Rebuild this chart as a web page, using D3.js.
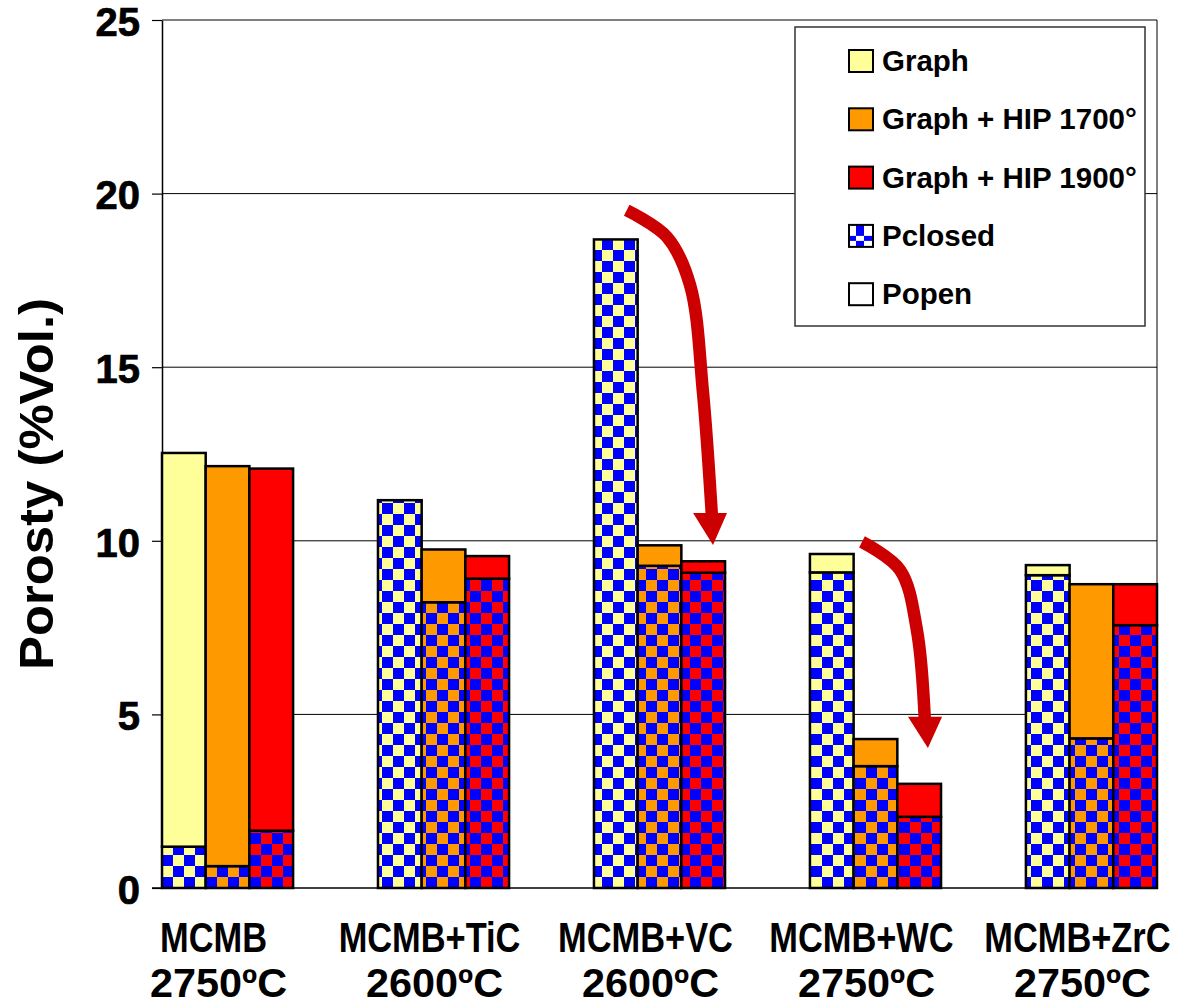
<!DOCTYPE html>
<html><head><meta charset="utf-8">
<script src="https://cdn.jsdelivr.net/npm/d3@7"></script>
<style>body{margin:0;background:#fff} svg{display:block}</style>
</head><body>
<svg id="chart" width="1183" height="1006"></svg>
<script>
// ---- data ----
const categories = ["MCMB", "MCMB+TiC", "MCMB+VC", "MCMB+WC", "MCMB+ZrC"];
const temperatures = ["2750ºC", "2600ºC", "2600ºC", "2750ºC", "2750ºC"];
const seriesNames = ["Graph", "Graph + HIP 1700°", "Graph + HIP 1900°"];
// closed porosity (checkered part)
const graphClosed   = [1.19, 11.17, 18.68, 9.09, 9.01];
const hip1700Closed = [0.63, 8.23, 9.28, 3.51, 4.31];
const hip1900Closed = [1.65, 8.91, 9.08, 2.05, 7.57];
// open porosity (solid part, stacked on top)
const graphOpen   = [11.34, 0.00, 0.00, 0.53, 0.29];
const hip1700Open = [11.52, 1.52, 0.59, 0.78, 4.44];
const hip1900Open = [10.43, 0.65, 0.33, 0.95, 1.18];
const yTicks = [0, 5, 10, 15, 20, 25];
const legendLabels = ["Graph", "Graph + HIP 1700°", "Graph + HIP 1900°", "Pclosed", "Popen"];
const seriesColors = ["#FFFF99", "#FF9900", "#FF0000"];
// annotation arrows: [fraction of category band, value]
const arrow1Shaft = [[0.25, 19.52], [0.557, 18.75], [0.733, 17.37], [0.832, 14.26], [0.90, 10.7]];
const arrow1Head  = [[0.756, 10.80], [1.015, 10.80], [0.908, 9.88]];
const arrow2Shaft = [[0.397, 9.97], [0.687, 9.16], [0.816, 7.43], [0.877, 4.8]];
const arrow2Head  = [[0.748, 4.93], [1.008, 4.93], [0.90, 4.03]];

const closedSeries = [graphClosed, hip1700Closed, hip1900Closed];
const openSeries = [graphOpen, hip1700Open, hip1900Open];

// ---- layout ----
const svg = d3.select("#chart");
const M = {left: 162, right: 1157, top: 20, bottom: 888};
const FONT = "'Liberation Sans', Arial, Helvetica, sans-serif";
const BLUE = "#0000FF";

const x = d3.scaleBand().domain(categories).range([M.left, M.right]).paddingInner(0.393).paddingOuter(0);
const xs = d3.scaleBand().domain(seriesNames).range([0, x.bandwidth()]);
const y = d3.scaleLinear().domain([0, 25]).range([M.bottom, M.top]);

// patterns
const defs = svg.append("defs");
const cell = 11;
seriesColors.forEach((c, i) => {
  const p = defs.append("pattern").attr("id", "chk" + i)
    .attr("patternUnits", "userSpaceOnUse").attr("width", cell * 2).attr("height", cell * 2)
    .attr("x", M.left).attr("y", M.bottom);
  p.append("rect").attr("width", cell * 2).attr("height", cell * 2).attr("fill", c);
  p.append("rect").attr("x", cell).attr("y", 0).attr("width", cell).attr("height", cell).attr("fill", BLUE);
  p.append("rect").attr("x", 0).attr("y", cell).attr("width", cell).attr("height", cell).attr("fill", BLUE);
});

// gridlines
svg.append("g").selectAll("line").data(yTicks.filter(t => t > 0)).join("line")
  .attr("x1", M.left).attr("x2", M.right)
  .attr("y1", d => y(d)).attr("y2", d => y(d))
  .attr("stroke", "#000").attr("stroke-width", 1);
// right frame
svg.append("line").attr("x1", M.right).attr("x2", M.right).attr("y1", M.top).attr("y2", M.bottom)
  .attr("stroke", "#000").attr("stroke-width", 1);

// y axis
const yAxis = svg.append("g").attr("transform", `translate(${M.left},0)`)
  .call(d3.axisLeft(y).tickValues(yTicks).tickSize(10).tickSizeOuter(0).tickPadding(12));
yAxis.select(".domain").attr("stroke", "#000").attr("stroke-width", 1.5);
yAxis.selectAll(".tick line").attr("stroke", "#000").attr("stroke-width", 1.2);
yAxis.selectAll(".tick text").attr("font-family", FONT).attr("font-size", 40)
  .attr("font-weight", "bold").attr("fill", "#000").attr("dy", "0.38em")
  .attr("stroke", "#000").attr("stroke-width", 0.7);

// bars
const bars = svg.append("g");
categories.forEach((cat, ci) => {
  seriesNames.forEach((s, si) => {
    const bx = x(cat) + xs(s);
    const bw = xs.bandwidth();
    const closed = closedSeries[si][ci];
    const open = openSeries[si][ci];
    bars.append("rect")
      .attr("x", bx).attr("width", bw)
      .attr("y", y(closed)).attr("height", y(0) - y(closed))
      .attr("fill", `url(#chk${si})`).attr("stroke", "#000").attr("stroke-width", 2.5);
    if (open > 0) {
      bars.append("rect")
        .attr("x", bx).attr("width", bw)
        .attr("y", y(closed + open)).attr("height", y(closed) - y(closed + open))
        .attr("fill", seriesColors[si]).attr("stroke", "#000").attr("stroke-width", 2.5);
    }
  });
});

// x baseline
svg.append("line").attr("x1", M.left - 10).attr("x2", M.right).attr("y1", M.bottom).attr("y2", M.bottom)
  .attr("stroke", "#000").attr("stroke-width", 1.5);

// category labels
const lab = svg.append("g").attr("font-family", FONT).attr("font-weight", "bold")
  .attr("fill", "#000").attr("text-anchor", "middle");
categories.forEach((cat, ci) => {
  const cx = x(cat) + x.bandwidth() / 2;
  lab.append("text").attr("font-size", 43)
    .attr("transform", `translate(${cx - 14},952) scale(0.8,1)`).text(cat);
  lab.append("text").attr("font-size", 41)
    .attr("transform", `translate(${cx - 9},997) scale(1.01,1)`).text(temperatures[ci]);
});

// y title
svg.append("text").attr("transform", "translate(53,484) rotate(-90)")
  .attr("text-anchor", "middle").attr("font-family", FONT).attr("font-weight", "bold")
  .attr("font-size", 48).attr("fill", "#000")
  .attr("textLength", 372).attr("lengthAdjust", "spacingAndGlyphs")
  .text("Porosty (%Vol.)");

// arrows
function drawArrow(cat, shaft, head) {
  const px = f => x(cat) + f * x.bandwidth();
  const line = d3.line().x(d => px(d[0])).y(d => y(d[1])).curve(d3.curveCatmullRom.alpha(0.5));
  svg.append("path").attr("d", line(shaft)).attr("fill", "none")
    .attr("stroke", "#CC0000").attr("stroke-width", 12.5).attr("stroke-linecap", "butt");
  svg.append("path").attr("d", d3.line().x(d => px(d[0])).y(d => y(d[1]))(head) + "Z")
    .attr("fill", "#CC0000");
}
drawArrow("MCMB+VC", arrow1Shaft, arrow1Head);
drawArrow("MCMB+WC", arrow2Shaft, arrow2Head);

// legend
const lg = svg.append("g");
lg.append("rect").attr("x", 795).attr("y", 27).attr("width", 350).attr("height", 299)
  .attr("fill", "#fff").attr("stroke", "#333").attr("stroke-width", 1.5);
const lp = defs.append("pattern").attr("id", "legchk").attr("patternUnits", "userSpaceOnUse")
  .attr("width", 16).attr("height", 16).attr("x", 849).attr("y", 61 + 3 * 58.3 - 11);
lp.append("rect").attr("width", 16).attr("height", 16).attr("fill", "#fff");
lp.append("rect").attr("x", 7).attr("y", 0).attr("width", 8).attr("height", 11).attr("fill", BLUE);
lp.append("rect").attr("x", 0).attr("y", 11).attr("width", 7).attr("height", 5).attr("fill", BLUE);
lp.append("rect").attr("x", 15).attr("y", 11).attr("width", 1).attr("height", 5).attr("fill", BLUE);
const legFills = [seriesColors[0], seriesColors[1], seriesColors[2], "url(#legchk)", "#fff"];
legendLabels.forEach((t, i) => {
  const cy = 61 + i * 58.3;
  lg.append("rect").attr("x", 849).attr("y", cy - 11).attr("width", 24).attr("height", 22)
    .attr("fill", legFills[i]).attr("stroke", "#000").attr("stroke-width", 2);
  lg.append("text").attr("x", 882).attr("y", cy + 10).attr("font-family", FONT)
    .attr("font-weight", "bold").attr("font-size", 29.5).attr("fill", "#000").text(t);
});
</script>
</body></html>
